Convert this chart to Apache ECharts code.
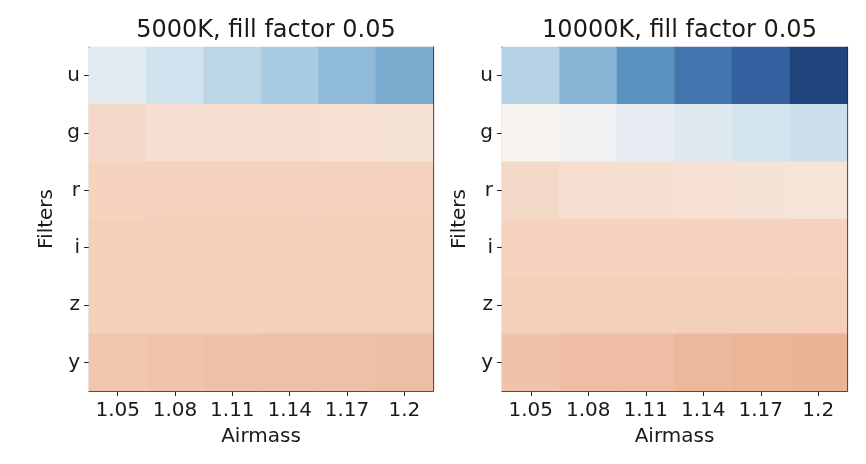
<!DOCTYPE html>
<html><head><meta charset="utf-8">
<script src="https://cdn.jsdelivr.net/npm/echarts@6/dist/echarts.min.js"></script>
<style>html,body{margin:0;padding:0;background:#fff}#c{width:866px;height:464px}</style>
</head><body><div id="c"></div>
<script>
// ---- data ----
const airmass = ['1.05', '1.08', '1.11', '1.14', '1.17', '1.2'];
const filters = ['u', 'g', 'r', 'i', 'z', 'y'];
const titles = ['5000K, fill factor 0.05', '10000K, fill factor 0.05'];
// rows follow filters order (u..y), columns follow airmass
const values5000 = [
  [-0.105, -0.20, -0.268, -0.334, -0.417, -0.49],
  [0.17, 0.13, 0.13, 0.13, 0.118, 0.11],
  [0.20, 0.202, 0.202, 0.202, 0.202, 0.202],
  [0.211, 0.211, 0.211, 0.211, 0.211, 0.211],
  [0.211, 0.211, 0.211, 0.211, 0.211, 0.211],
  [0.248, 0.259, 0.267, 0.270, 0.270, 0.278]
];
const values10000 = [
  [-0.288, -0.445, -0.60, -0.72, -0.81, -0.954],
  [0.005, -0.037, -0.09, -0.126, -0.184, -0.22],
  [0.165, 0.13, 0.13, 0.118, 0.11, 0.10],
  [0.20, 0.20, 0.20, 0.202, 0.202, 0.202],
  [0.211, 0.211, 0.211, 0.211, 0.211, 0.211],
  [0.263, 0.281, 0.281, 0.30, 0.311, 0.319]
];

// ---- chart ----
const cmap = ['#1a3a70', '#3463a2', '#5a92c0', '#94bfda', '#d1e2ef', '#f7f5f3',
  '#f5d3bf', '#e39d79', '#d6604d', '#b2182b', '#67001f'];
const font = 'DejaVu Sans';
function toData(rows) {
  const d = [];
  rows.forEach((row, yi) => row.forEach((v, xi) => d.push([xi, yi, v])));
  return d;
}
const grids = [
  { left: 89, top: 47, width: 344, height: 344 },
  { left: 502, top: 47, width: 345, height: 344 }
];
const axisColor = '#262626';
const xAxes = [], yAxes = [];
grids.forEach((g, i) => {
  xAxes.push({
    type: 'category', gridIndex: i, data: airmass, position: 'bottom',
    name: 'Airmass', nameLocation: 'middle', nameGap: 36,
    nameTextStyle: { fontFamily: font, fontSize: 20, color: '#1a1a1a' },
    axisLine: { show: true, lineStyle: { color: axisColor, width: 1.2 } },
    axisTick: { show: true, alignWithLabel: true, interval: 0, length: 5, lineStyle: { color: axisColor } },
    axisLabel: { fontFamily: font, fontSize: 20, color: '#1a1a1a', margin: 10, interval: 0 },
    splitLine: { show: false }
  });
  xAxes.push({
    type: 'category', gridIndex: i, data: airmass, position: 'top',
    axisLine: { show: true, lineStyle: { color: axisColor, width: 1.2 } },
    axisTick: { show: false }, axisLabel: { show: false }
  });
  yAxes.push({
    type: 'category', gridIndex: i, data: filters, inverse: true, position: 'left',
    name: 'Filters', nameLocation: 'middle', nameGap: 32, nameRotate: 90,
    nameTextStyle: { fontFamily: font, fontSize: 20, color: '#1a1a1a' },
    axisLine: { show: true, lineStyle: { color: axisColor, width: 1.2 } },
    axisTick: { show: true, alignWithLabel: true, interval: 0, length: 5, lineStyle: { color: axisColor } },
    axisLabel: { fontFamily: font, fontSize: 20, color: '#1a1a1a', margin: 9, interval: 0 },
    splitLine: { show: false }
  });
  yAxes.push({
    type: 'category', gridIndex: i, data: filters, inverse: true, position: 'right',
    axisLine: { show: true, lineStyle: { color: axisColor, width: 1.2 } },
    axisTick: { show: false }, axisLabel: { show: false }
  });
});
const chart = echarts.init(document.getElementById('c'));
chart.setOption({
  animation: false,
  backgroundColor: '#fff',
  title: titles.map((t, i) => ({
    text: t, left: grids[i].left + grids[i].width / 2, top: 14, textAlign: 'center',
    textStyle: { fontFamily: font, fontSize: 24, fontWeight: 'normal', color: '#1a1a1a' }
  })),
  grid: grids,
  xAxis: xAxes,
  yAxis: yAxes,
  visualMap: [{
    show: false, type: 'continuous', min: -1, max: 1, seriesIndex: [0, 1],
    inRange: { color: cmap }
  }],
  series: [values5000, values10000].map((vals, i) => ({
    type: 'heatmap', xAxisIndex: i * 2, yAxisIndex: i * 2, data: toData(vals),
    itemStyle: { borderWidth: 0 }, emphasis: { disabled: true }
  }))
});
</script></body></html>
